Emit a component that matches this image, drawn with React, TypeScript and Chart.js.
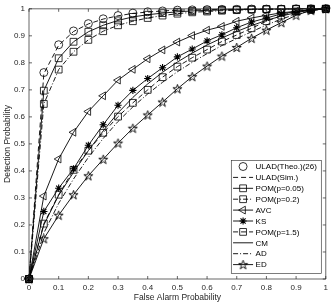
import React, { useEffect, useRef } from 'react';
import { Chart, registerables } from 'chart.js';
import { drawPoint } from 'chart.js/helpers';

Chart.register(...registerables);

// ---- data ----
const falseAlarm = [0, 0.05, 0.1, 0.15, 0.2, 0.25, 0.3, 0.35, 0.4, 0.45, 0.5, 0.55, 0.6, 0.65, 0.7, 0.75, 0.8, 0.85, 0.9, 0.95, 1];
const uladTheo = [0, 0.764, 0.867, 0.918, 0.945, 0.963, 0.975, 0.984, 0.989, 0.992, 0.995, 0.996, 0.997, 0.998, 0.998, 0.999, 0.999, 0.999, 1, 1, 1];
const uladSim = [0, 0.76, 0.865, 0.916, 0.944, 0.962, 0.974, 0.983, 0.988, 0.992, 0.995, 0.996, 0.997, 0.998, 0.998, 0.999, 0.999, 0.999, 1, 1, 1];
const pom005 = [0, 0.697, 0.817, 0.878, 0.915, 0.939, 0.957, 0.97, 0.978, 0.984, 0.989, 0.992, 0.994, 0.996, 0.997, 0.998, 0.999, 0.999, 1, 1, 1];
const pom02 = [0, 0.648, 0.775, 0.841, 0.885, 0.917, 0.939, 0.954, 0.966, 0.975, 0.982, 0.987, 0.99, 0.993, 0.995, 0.997, 0.998, 0.999, 0.999, 1, 1];
const avc = [0, 0.307, 0.444, 0.543, 0.62, 0.678, 0.736, 0.776, 0.815, 0.848, 0.877, 0.901, 0.921, 0.935, 0.954, 0.966, 0.976, 0.985, 0.991, 0.996, 1];
const ks = [0, 0.25, 0.336, 0.408, 0.495, 0.571, 0.643, 0.698, 0.742, 0.782, 0.822, 0.851, 0.881, 0.904, 0.93, 0.951, 0.966, 0.981, 0.99, 0.996, 1];
const pom15 = [0, 0.205, 0.312, 0.404, 0.475, 0.541, 0.601, 0.652, 0.7, 0.747, 0.786, 0.819, 0.849, 0.879, 0.903, 0.928, 0.954, 0.975, 0.99, 0.996, 1];
const cm = [0, 0.2, 0.31, 0.395, 0.475, 0.548, 0.615, 0.672, 0.722, 0.765, 0.803, 0.836, 0.866, 0.892, 0.916, 0.938, 0.957, 0.973, 0.986, 0.995, 1];
const ad = [0, 0.17, 0.28, 0.37, 0.45, 0.52, 0.583, 0.637, 0.685, 0.728, 0.767, 0.802, 0.834, 0.864, 0.89, 0.915, 0.94, 0.962, 0.98, 0.993, 1];
const ed = [0, 0.149, 0.236, 0.312, 0.382, 0.443, 0.503, 0.558, 0.607, 0.655, 0.704, 0.749, 0.788, 0.825, 0.857, 0.891, 0.921, 0.949, 0.976, 0.994, 1];

const xTicks = [0, 0.1, 0.2, 0.3, 0.4, 0.5, 0.6, 0.7, 0.8, 0.9, 1];
const yTicks = [0, 0.1, 0.2, 0.3, 0.4, 0.5, 0.6, 0.7, 0.8, 0.9, 1];
const legendLabels = ['ULAD(Theo.)(26)', 'ULAD(Sim.)', 'POM(p=0.05)', 'POM(p=0.2)', 'AVC', 'KS', 'POM(p=1.5)', 'CM', 'AD', 'ED'];
const xTitle = 'False Alarm Probability';
const yTitle = 'Detection Probability';

const FONT = '"Liberation Sans", Arial, Helvetica, sans-serif';
const AXIS_COLOR = '#262626';
const DASH = [5, 3];
const DASHDOT = [5, 2, 1, 2];

function makePentagram(size: number): HTMLCanvasElement {
  const c = document.createElement('canvas');
  c.width = size;
  c.height = size;
  const g = c.getContext('2d')!;
  const cx = size / 2;
  const cy = size / 2 + 0.4;
  const R = size / 2 - 0.7;
  const r = R * 0.382;
  g.beginPath();
  for (let i = 0; i < 10; i++) {
    const a = -Math.PI / 2 + (i * Math.PI) / 5;
    const rr = i % 2 === 0 ? R : r;
    const px = cx + rr * Math.cos(a);
    const py = cy + rr * Math.sin(a);
    if (i === 0) g.moveTo(px, py);
    else g.lineTo(px, py);
  }
  g.closePath();
  g.strokeStyle = '#000';
  g.lineWidth = 0.9;
  g.stroke();
  return c;
}

const toPts = (ys: number[]) => ys.map((y, i) => ({ x: falseAlarm[i], y }));

const frameAndTicksPlugin = {
  id: 'frameTicks',
  afterDraw(chart: any) {
    const { ctx, chartArea } = chart;
    const { left, right, top, bottom } = chartArea;
    const xs = chart.scales.x;
    const ys = chart.scales.y;
    ctx.save();
    ctx.strokeStyle = AXIS_COLOR;
    ctx.lineWidth = 0.7;
    ctx.setLineDash([]);
    ctx.beginPath();
    ctx.rect(left, top, right - left, bottom - top);
    ctx.stroke();
    const tl = 3;
    ctx.beginPath();
    for (const v of xTicks) {
      const px = xs.getPixelForValue(v);
      ctx.moveTo(px, bottom);
      ctx.lineTo(px, bottom - tl);
      ctx.moveTo(px, top);
      ctx.lineTo(px, top + tl);
    }
    for (const v of yTicks) {
      const py = ys.getPixelForValue(v);
      ctx.moveTo(left, py);
      ctx.lineTo(left + tl, py);
      ctx.moveTo(right, py);
      ctx.lineTo(right - tl, py);
    }
    ctx.stroke();
    // axis titles
    ctx.fillStyle = AXIS_COLOR;
    ctx.font = `8.5px ${FONT}`;
    ctx.textAlign = 'center';
    ctx.textBaseline = 'middle';
    ctx.fillText(xTitle, (left + right) / 2, 298);
    ctx.save();
    ctx.translate(8, (top + bottom) / 2);
    ctx.rotate(-Math.PI / 2);
    ctx.fillText(yTitle, 0, 0);
    ctx.restore();
    ctx.restore();
  },
};

const legendPlugin = {
  id: 'matlabLegend',
  afterDraw(chart: any) {
    const { ctx, chartArea } = chart;
    const bw = 90;
    const bh = 113;
    const bx = chartArea.right - 4.5 - bw;
    const by = chartArea.bottom - 5.5 - bh;
    ctx.save();
    ctx.fillStyle = '#fff';
    ctx.fillRect(bx, by, bw, bh);
    ctx.strokeStyle = AXIS_COLOR;
    ctx.lineWidth = 0.6;
    ctx.setLineDash([]);
    ctx.strokeRect(bx, by, bw, bh);
    const rowH = 10.9;
    const lx0 = bx + 1.8;
    const lx1 = bx + 21.8;
    const lxm = (lx0 + lx1) / 2;
    chart.data.datasets.forEach((ds: any, i: number) => {
      const cy = by + 6 + i * rowH;
      ctx.save();
      if (ds.showLine !== false) {
        ctx.strokeStyle = '#000';
        ctx.lineWidth = ds.borderWidth;
        ctx.setLineDash(ds.borderDash || []);
        ctx.beginPath();
        ctx.moveTo(lx0, cy);
        ctx.lineTo(lx1, cy);
        ctx.stroke();
      }
      ctx.setLineDash([]);
      if (ds.pointRadius > 0) {
        ctx.strokeStyle = '#000';
        ctx.fillStyle = 'rgba(0,0,0,0)';
        ctx.lineWidth = ds.pointBorderWidth;
        drawPoint(ctx, {
          pointStyle: ds.pointStyle,
          rotation: ds.pointRotation || 0,
          radius: ds.pointRadius,
          borderWidth: ds.pointBorderWidth,
        } as any, lxm, cy);
      }
      ctx.fillStyle = '#000';
      ctx.font = `8px ${FONT}`;
      ctx.textAlign = 'left';
      ctx.textBaseline = 'middle';
      ctx.fillText(legendLabels[i], lx1 + 2.5, cy + 0.5);
      ctx.restore();
    });
    ctx.restore();
  },
};

export default function App() {
  const canvasRef = useRef<HTMLCanvasElement | null>(null);

  useEffect(() => {
    const canvas = canvasRef.current;
    if (!canvas) return;
    const pent = makePentagram(11);
    const base = {
      borderColor: '#000',
      borderWidth: 0.9,
      pointBorderColor: '#000',
      pointBackgroundColor: 'rgba(0,0,0,0)',
      pointBorderWidth: 0.8,
      tension: 0,
      clip: false as any,
      pointHoverRadius: 0,
    };
    const datasets: any[] = [
      { ...base, label: legendLabels[0], data: toPts(uladTheo), showLine: false, pointStyle: 'circle', pointRadius: 4 },
      { ...base, label: legendLabels[1], data: toPts(uladSim), borderDash: DASH, pointRadius: 0 },
      { ...base, label: legendLabels[2], data: toPts(pom005), pointStyle: 'rect', pointRadius: 4.8 },
      { ...base, label: legendLabels[3], data: toPts(pom02), borderDash: DASHDOT, pointStyle: 'rect', pointRadius: 4.8 },
      { ...base, label: legendLabels[4], data: toPts(avc), pointStyle: 'triangle', pointRotation: -90, pointRadius: 4.5 },
      { ...base, label: legendLabels[5], data: toPts(ks), pointStyle: 'star', pointRadius: 3.6, pointBorderWidth: 1.1 },
      { ...base, label: legendLabels[6], data: toPts(pom15), borderDash: DASH, pointStyle: 'rect', pointRadius: 4.8 },
      { ...base, label: legendLabels[7], data: toPts(cm), pointRadius: 0 },
      { ...base, label: legendLabels[8], data: toPts(ad), borderDash: DASHDOT, pointRadius: 0 },
      { ...base, label: legendLabels[9], data: toPts(ed), pointStyle: pent, pointRadius: 5 },
    ];

    const chart = new Chart(canvas, {
      type: 'line',
      data: { datasets },
      options: {
        responsive: false,
        animation: false,
        devicePixelRatio: 1,
        layout: { padding: { top: 3, right: 6, left: 0, bottom: 0 } },
        plugins: {
          legend: { display: false },
          tooltip: { enabled: false },
        },
        events: [],
        scales: {
          x: {
            type: 'linear',
            min: 0,
            max: 1,
            grid: { display: false, drawTicks: false },
            border: { display: false },
            afterBuildTicks: (s: any) => {
              s.ticks = xTicks.map((v) => ({ value: v }));
            },
            afterFit: (s: any) => {
              s.height = 28;
            },
            ticks: {
              autoSkip: false,
              maxRotation: 0,
              padding: 4,
              color: AXIS_COLOR,
              font: { family: FONT, size: 8 },
              callback: (v: any) => String(v),
            },
          },
          y: {
            type: 'linear',
            min: 0,
            max: 1,
            grid: { display: false, drawTicks: false },
            border: { display: false },
            afterBuildTicks: (s: any) => {
              s.ticks = yTicks.map((v) => ({ value: v }));
            },
            afterFit: (s: any) => {
              s.width = 29;
            },
            ticks: {
              autoSkip: false,
              padding: 4,
              color: AXIS_COLOR,
              font: { family: FONT, size: 8 },
              callback: (v: any) => String(v),
            },
          },
        },
      },
      plugins: [frameAndTicksPlugin, legendPlugin],
    });
    return () => chart.destroy();
  }, []);

  return (
    <div style={{ position: 'fixed', left: 0, top: 0, width: 332, height: 307, background: '#fff' }}>
      <canvas ref={canvasRef} width={332} height={307} style={{ display: 'block' }} />
    </div>
  );
}
